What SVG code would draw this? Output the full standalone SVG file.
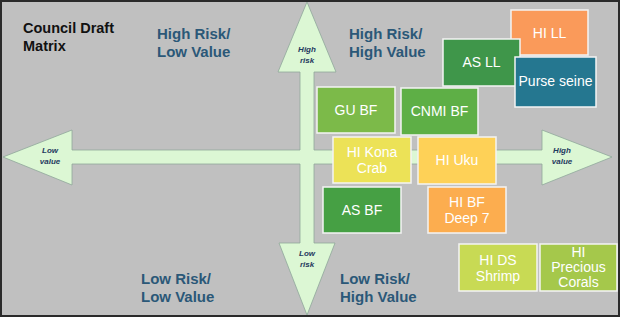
<svg xmlns="http://www.w3.org/2000/svg" width="620" height="317" viewBox="0 0 620 317">
<style>
.q{font-family:"Liberation Sans",Arial,sans-serif;font-weight:bold;font-size:15px;fill:#2b5878}
.ax{font-family:"Liberation Sans",Arial,sans-serif;font-weight:bold;font-style:italic;font-size:8px;fill:#1f3a5f;text-anchor:middle}
.bx{stroke:#f4f4f4;stroke-width:1.5}
.bt{font-family:"Liberation Sans",Arial,sans-serif;font-size:14px;fill:#ffffff;text-anchor:middle}
</style>
<rect x="1" y="1" width="618" height="315" fill="#c0c0c0" stroke="#2a2a2a" stroke-width="2"/>
<text x="23" y="33" font-family="Liberation Sans,Arial,sans-serif" font-weight="bold" font-size="14.5" fill="#111">Council Draft</text>
<text x="23" y="51" font-family="Liberation Sans,Arial,sans-serif" font-weight="bold" font-size="14.5" fill="#111">Matrix</text>
<g id="connectors">
<polygon fill="#dcf7d4" stroke="#8fa79a" stroke-width="0.8" points="307,2 336,72 314,72 314,150 542,150 542,130 612,157 542,185 542,164 314,164 314,243 335,243 307,315 279,243 300,243 300,164 72,164 72,185 3,157 72,130 72,150 300,150 300,72 278,72"/>
<text class="ax" x="307" y="52">High</text>
<text class="ax" x="307" y="63">risk</text>
<text class="ax" x="307" y="256">Low</text>
<text class="ax" x="307" y="267">risk</text>
<text class="ax" x="50" y="153">Low</text>
<text class="ax" x="50" y="164">value</text>
<text class="ax" x="562" y="153">High</text>
<text class="ax" x="562" y="164">value</text>
</g>
<g id="quadrants">
<text class="q" x="157" y="39">High Risk/</text>
<text class="q" x="157" y="57">Low Value</text>
<text class="q" x="349" y="39">High Risk/</text>
<text class="q" x="349" y="57">High Value</text>
<text class="q" x="141" y="284">Low Risk/</text>
<text class="q" x="141" y="302">Low Value</text>
<text class="q" x="340" y="284">Low Risk/</text>
<text class="q" x="340" y="302">High Value</text>
</g>
<g id="hi-ll"><rect class="bx" x="511" y="10" width="77" height="45" fill="#fa9a5a"/><text class="bt" x="549.5" y="38">HI LL</text></g>
<g id="as-ll"><rect class="bx" x="443" y="39" width="77" height="47" fill="#3f964a"/><text class="bt" x="481.5" y="67">AS LL</text></g>
<g id="purse-seine"><rect class="bx" x="515" y="57" width="81" height="50" fill="#257790"/><text class="bt" x="555.5" y="86" font-size="12">Purse seine</text></g>
<g id="gu-bf"><rect class="bx" x="317" y="87" width="78" height="46" fill="#7cba49"/><text class="bt" x="356" y="115">GU BF</text></g>
<g id="cnmi-bf"><rect class="bx" x="401" y="88" width="77" height="47" fill="#5eaf46"/><text class="bt" x="439.5" y="116">CNMI BF</text></g>
<g id="hi-kona-crab"><rect class="bx" x="333" y="137" width="78" height="46" fill="#ece257"/><text class="bt" x="372" y="157">HI Kona</text><text class="bt" x="372" y="173">Crab</text></g>
<g id="hi-uku"><rect class="bx" x="418" y="137" width="78" height="47" fill="#fed157"/><text class="bt" x="457" y="165">HI Uku</text></g>
<g id="as-bf"><rect class="bx" x="323" y="187" width="78" height="46" fill="#46a044"/><text class="bt" x="362" y="215">AS BF</text></g>
<g id="hi-bf-deep7"><rect class="bx" x="428" y="187" width="78" height="46" fill="#fcad4f"/><text class="bt" x="467" y="207">HI BF</text><text class="bt" x="467" y="223">Deep 7</text></g>
<g id="hi-ds-shrimp"><rect class="bx" x="459" y="244" width="78" height="47" fill="#c8da54"/><text class="bt" x="498" y="265">HI DS</text><text class="bt" x="498" y="281">Shrimp</text></g>
<g id="hi-precious-corals"><rect class="bx" x="540" y="244" width="77" height="47" fill="#a5c84b"/><text class="bt" x="578.5" y="257" font-size="13">HI</text><text class="bt" x="578.5" y="272" font-size="13">Precious</text><text class="bt" x="578.5" y="287" font-size="13">Corals</text></g>
</svg>
